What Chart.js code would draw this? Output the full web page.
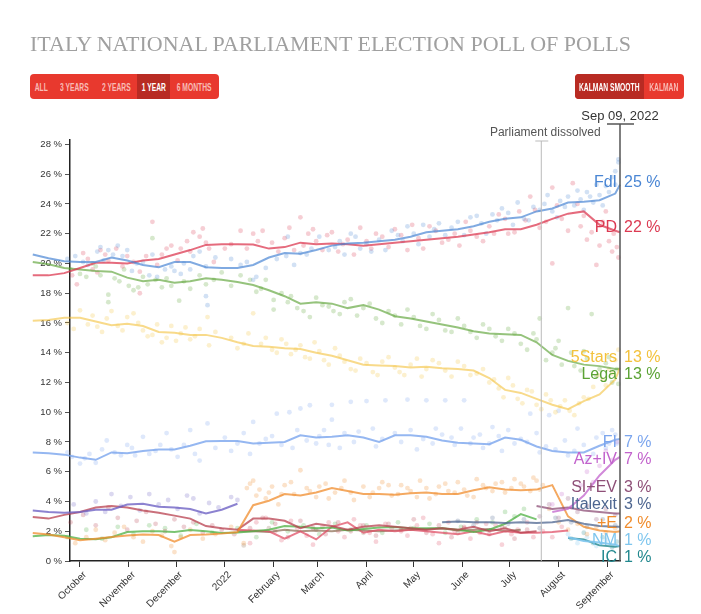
<!DOCTYPE html>
<html>
<head>
<meta charset="utf-8">
<script src="https://cdn.jsdelivr.net/npm/chart.js@4/dist/chart.umd.min.js"></script>
<style>
body { margin: 0; background: #fff; }
#wrap { position: relative; width: 701px; height: 614px; overflow: hidden; }
#chart { position: absolute; left: 0; top: 0; }
h1 { position: absolute; left: 30px; top: 31px; margin: 0; font: normal 22px "Liberation Serif", serif; color: #a0a0a0; white-space: nowrap; z-index: 2; }
.btns { position: absolute; top: 74px; height: 25px; display: flex; border-radius: 4px; overflow: hidden; background: #e8392e; z-index: 2; }
.btns span { display: flex; align-items: center; justify-content: center; overflow: hidden; }
.btns b { display: inline-block; white-space: nowrap; transform: scaleX(0.64); font: bold 10.5px "Liberation Sans", Arial, sans-serif; color: #f8bcb6; }
.btns span.on { background: #b82b23; }
.btns span.on b { color: #fff; }
</style>
</head>
<body>
<div id="wrap">
  <h1>ITALY NATIONAL PARLIAMENT ELECTION POLL OF POLLS</h1>
  <div class="btns" style="left:30px;width:189px">
    <span style="width:23px"><b>ALL</b></span><span style="width:42px"><b>3 YEARS</b></span><span style="width:42px"><b>2 YEARS</b></span><span class="on" style="width:33px"><b>1 YEAR</b></span><span style="width:49px"><b>6 MONTHS</b></span>
  </div>
  <div class="btns" style="left:575px;width:109px">
    <span class="on" style="width:69px"><b>KALMAN SMOOTH</b></span><span style="width:40px"><b>KALMAN</b></span>
  </div>
  <canvas id="chart" width="701" height="614"></canvas>
</div>
<script>
// smoothed lines, sampled every 10 days
const dates = ['2021-09-01','2021-09-11','2021-09-21','2021-10-01','2021-10-11','2021-10-21','2021-10-31',
  '2021-11-10','2021-11-20','2021-11-30','2021-12-10','2021-12-20','2021-12-30','2022-01-09','2022-01-19',
  '2022-01-29','2022-02-08','2022-02-18','2022-02-28','2022-03-10','2022-03-20','2022-03-30','2022-04-09',
  '2022-04-19','2022-04-29','2022-05-09','2022-05-19','2022-05-29','2022-06-08','2022-06-18','2022-06-28',
  '2022-07-08','2022-07-18','2022-07-28','2022-08-07','2022-08-17','2022-08-27','2022-09-06','2022-09-09'];

const fdi = [20.6,20.35,20.15,20.1,20.1,20.4,20.2,19.9,19.75,20.1,20.1,19.75,19.7,19.7,19.9,20.4,20.7,20.65,20.9,21.2,
  21.35,21.4,21.5,21.6,21.8,22.1,22.2,22.3,22.5,22.8,23.0,23.1,23.5,23.7,24.1,24.15,24.25,24.7,25.3];
const pd = [19.2,19.2,19.35,19.7,20.05,20.05,20.0,20.2,20.3,20.6,20.9,21.25,21.3,21.3,21.28,21.0,21.1,21.4,21.3,21.35,
  21.3,21.2,21.3,21.4,21.5,21.6,21.7,21.8,21.95,22.1,22.3,22.3,22.6,23.0,23.35,23.5,22.6,22.2,22.1];
const lega = [20.1,19.95,19.7,19.6,19.5,19.45,19.05,18.8,18.9,18.7,18.8,19.0,18.9,18.75,18.55,18.2,17.8,17.3,17.4,17.3,
  17.0,17.2,16.9,16.45,16.3,16.1,15.9,15.7,15.45,15.3,15.25,15.2,14.7,13.85,13.45,13.2,13.1,12.9,12.9];
const m5s = [16.15,16.2,16.35,16.35,16.1,15.85,15.95,15.8,15.4,15.35,15.2,15.2,15.0,14.7,14.45,14.4,14.3,14.25,14.0,13.8,
  13.5,13.2,13.15,13.1,13.0,13.05,12.95,12.9,12.8,12.3,11.5,11.3,10.9,10.5,10.2,10.75,11.2,12.2,13.0];
const fi = [7.3,7.25,7.15,6.95,6.8,7.3,7.25,7.4,7.5,7.5,7.75,8.05,8.07,8.07,7.9,7.95,8.0,8.45,8.3,8.35,
  8.45,8.3,8.0,8.45,8.45,8.35,8.1,7.95,7.9,7.85,8.3,8.15,7.7,7.4,7.3,7.3,7.75,8.15,8.2];
const azIv = [null,null,null,null,null,null,null,null,null,null,null,null,null,null,null,null,null,null,null,null,
  null,null,null,null,null,null,null,null,null,null,null,null,null,3.3,3.5,4.4,5.75,6.8,7.0];
const siEv = [null,null,null,null,null,null,null,null,null,null,null,null,null,null,null,null,null,null,null,null,
  null,null,null,null,null,null,null,null,null,null,null,null,3.7,3.5,3.6,3.4,3.3,3.2,3.2];
const italexit = [null,null,null,null,null,null,null,null,null,null,null,null,null,null,null,null,null,null,null,null,
  null,null,null,null,null,null,2.6,2.65,2.6,2.6,2.55,2.6,2.55,2.6,2.75,2.5,2.35,2.3,2.3];
const piuE = [1.88,1.78,1.6,1.4,1.5,1.62,1.72,1.78,1.75,1.3,1.75,1.78,1.84,1.95,3.75,4.05,4.5,4.4,4.6,4.9,
  4.7,4.5,4.5,4.45,4.55,4.6,4.5,4.5,4.75,4.95,4.8,4.75,4.8,5.1,3.0,2.3,2.05,1.95,2.0];
const nm = [null,null,null,null,null,null,null,null,null,null,null,null,null,null,null,null,null,null,null,null,
  null,null,null,null,null,null,null,null,null,null,null,null,null,null,1.6,1.35,1.25,1.1,1.0];
const ic = [null,null,null,null,null,null,null,null,null,null,null,null,null,null,null,null,null,null,null,null,
  null,null,null,null,null,null,null,null,null,null,null,null,null,null,1.55,1.45,1.05,0.95,1.0];
// parties that dropped out before the end
const azione = [3.4,3.3,3.25,3.3,3.45,3.45,3.8,3.85,3.65,3.6,3.5,3.2,3.45,3.85];
const si = [2.95,2.85,3.1,3.3,3.6,3.7,3.6,3.4,3.25,3.05,2.85,2.35,2.2,2.1,2.85,2.85,2.7,2.2,2.5,2.35,
  2.1,2.3,2.4,2.3,2.2,2.1,2.2,2.1,2.3,2.0,2.2,1.9,2.0];
const ev = [1.66,1.75,1.7,1.5,1.46,1.6,1.95,2.0,2.0,1.95,2.08,2.0,1.88,1.92,2.0,2.1,2.35,2.3,2.2,2.25,
  2.05,2.15,2.25,2.29,2.2,2.2,2.2,2.1,1.95,2.1,2.5,3.15,2.8];
const art1 = [null,null,null,null,null,null,null,null,null,null,null,null,null,2.1,2.05,2.0,1.5,2.0,1.45,2.3,
  2.6,1.9,2.1,2.0,2.1,2.0,1.9,1.8,2.0,1.75,2.0,1.9,1.9,1.95,2.05];
const other = [null,null,null,null,null,null,null,null,null,null,null,null,null,2.0,2.0,1.95,2.1,2.0,2.05,2.0,
  2.1,2.05,2.0,2.05,2.1,2.15,2.2,2.05,2.1,2.15,2.0,2.1];

// single polls: [days after 2021-10-01, %]
const fdiPolls = [[-30,21.2],[-27,21.1],[-24,21.0],[-21,21.0],[-18,20.9],[-12,20.4],[-8,20.3],[2,20.1],[11,20.8],[13,21.1],
  [18,20.9],[21,20.6],[27,20.5],[33,19.5],[36,20.0],[44,19.2],[49,19.1],[54,19.6],[60,19.5],[66,20.0],[72,20.5],[76,20.8],
  [80,19.8],[80,17.8],[81,17.2],[102,19.9],[110,18.9],[112,19.1],[125,20.3],[131,20.5],[132,21.8],[140,20.7],[147,21.0],
  [152,21.8],[158,20.9],[165,21.5],[172,22.0],[178,21.0],[185,20.8],[190,21.6],[198,22.2],[205,21.5],[212,22.0],[218,22.6],
  [225,22.3],[232,21.9],[240,22.8],[248,23.1],[255,22.7],[262,23.3],[268,23.7],[275,22.6],[282,23.0],[288,23.8],[295,24.0],
  [300,23.5],[305,24.2],[310,24.5],[314,23.9],[318,24.3],[322,24.8],[326,24.1],[330,24.6],[334,25.2],[338,25.8],[340,26.2],
  [342,26.8],[342,27.0],
  [-29,20.6],[-15,21.1],[-3,20.5],[5,19.9],[15,20.2],[24,21.2],[30,20.9],[40,20.1],[46,20.6],[58,19.8],[64,19.3],[70,19.6],
  [86,20.4],[96,20.3],[106,20.1],[118,19.7],[136,19.9],[144,20.6],[162,21.1],[168,20.6],[175,21.8],[182,21.3],[194,20.9],
  [202,21.9],[208,22.5],[215,21.3],[222,21.8],[228,22.7],[236,22.4],[244,21.9],[252,23.2],[258,22.0],[265,22.9],[272,23.4],
  [278,24.1],[285,22.9],[292,23.6],[297,24.6],[303,23.1],[308,23.8],[316,24.9],[320,23.6],[324,24.5],[328,25.3],[332,23.9],
  [336,24.8],[340,25.3]];
const pdPolls = [[-28,19.0],[-25,18.8],[-22,19.5],[-19,18.7],[-17,18.3],[-11,19.7],[-5,19.2],[2,20.7],[8,19.6],[13,20.9],
  [18,20.2],[23,21.0],[30,20.5],[38,19.45],[38,18.0],[46,22.8],[52,20.6],[58,21.2],[64,21.0],[68,21.5],[72,22.1],[76,21.8],
  [78,22.35],[82,21.0],[85,20.1],[96,21.3],[102,22.2],[110,22.0],[116,22.2],[122,21.4],[130,21.7],[136,20.9],[140,23.1],
  [145,22.0],[150,21.5],[157,21.9],[164,20.8],[170,21.6],[178,22.4],[185,21.0],[192,21.8],[200,22.3],[208,20.9],[215,21.7],
  [222,22.5],[230,21.4],[238,22.0],[245,22.8],[252,21.8],[260,22.5],[266,23.3],[272,22.0],[279,23.5],[286,24.5],[292,22.4],
  [300,25.1],[300,20.0],[306,23.0],[313,25.4],[318,22.5],[322,21.6],[328,19.9],[332,22.8],[336,21.5],[339,22.0],[341,21.1],
  [342,20.4],
  [-30,19.4],[-14,19.0],[-2,18.6],[5,20.3],[11,19.4],[16,20.6],[27,19.8],[34,20.1],[42,20.5],[49,19.9],[55,21.0],[62,20.2],
  [70,20.8],[80,21.4],[92,21.0],[106,21.0],[113,21.5],[126,20.8],[133,22.4],[142,21.2],[148,22.3],[154,20.9],[160,22.1],
  [167,21.3],[174,20.6],[182,21.5],[188,22.0],[196,21.1],[204,21.9],[211,22.6],[218,21.0],[226,22.2],[234,21.6],[241,21.2],
  [248,22.2],[256,21.5],[263,22.0],[270,23.0],[276,22.1],[283,22.9],[289,23.6],[296,22.8],[303,23.9],[310,22.2],[316,24.0],
  [320,23.2],[325,22.1],[330,21.2],[334,23.5],[338,20.8]];
const legaPolls = [[-30,19.7],[-26,20.2],[-19,19.55],[-12,19.8],[0,19.3],[8,20.0],[13,19.2],[18,17.9],[18,17.4],[25,18.8],
  [31,18.5],[37,18.4],[43,18.6],[46,21.7],[52,18.4],[58,18.5],[63,17.5],[70,18.3],[76,19.2],[85,18.9],[102,19.2],[108,18.9],
  [115,18.3],[123,17.55],[123,16.9],[128,18.0],[132,17.4],[138,17.0],[146,16.4],[150,17.7],[158,17.1],[165,16.6],[172,17.6],
  [180,17.0],[188,16.3],[196,16.8],[204,15.9],[212,16.4],[220,15.6],[228,16.2],[236,15.4],[244,15.8],[252,15.0],[260,15.6],
  [268,14.8],[276,15.3],[284,14.2],[290,14.9],[292,16.3],[296,13.5],[302,14.3],[306,13.2],[310,17.0],[312,14.0],[318,12.8],
  [322,13.6],[325,16.6],[328,12.4],[334,13.3],[338,12.0],[341,12.9],[342,11.9],
  [-28,20.5],[-22,19.3],[-16,20.0],[-6,19.6],[4,19.1],[10,19.8],[22,19.0],[28,19.6],[34,18.2],[40,19.1],[48,18.9],[55,19.0],
  [66,18.8],[80,18.6],[90,19.4],[96,18.5],[112,18.1],[118,18.9],[134,17.8],[142,16.8],[154,17.2],[161,16.8],[168,17.4],
  [176,16.5],[184,17.3],[192,16.0],[200,16.5],[208,16.9],[216,15.8],[224,16.6],[232,15.5],[240,16.3],[248,15.4],[256,15.9],
  [264,15.1],[272,15.6],[280,14.6],[288,15.3],[300,14.0],[304,14.8],[314,13.1],[320,14.1],[330,12.9],[336,13.7]];
const m5sPolls = [[-30,16.6],[-26,15.8],[-21,17.1],[-16,16.5],[-8,16.0],[0,16.85],[5,15.9],[11,15.75],[17,16.3],[24,15.8],
  [30,16.4],[34,16.65],[40,15.5],[46,15.2],[52,14.7],[58,15.8],[64,15.3],[70,14.9],[76,15.6],[81,16.4],[82,14.5],[96,15.0],
  [104,14.6],[110,16.65],[115,14.6],[122,14.2],[128,14.9],[134,13.9],[140,14.5],[146,13.6],[152,14.1],[158,13.2],[165,13.8],
  [172,12.9],[178,13.6],[186,12.7],[192,13.4],[200,13.0],[206,12.5],[214,13.6],[220,12.9],[228,13.3],[236,12.4],[244,13.1],
  [252,12.6],[260,12.0],[266,11.6],[272,12.3],[278,10.9],[284,11.5],[290,10.5],[296,11.2],[302,10.0],[308,10.8],[314,9.8],
  [320,11.0],[326,11.7],[332,12.2],[336,12.9],[340,13.5],[342,14.2],
  [-28,15.9],[-18,16.2],[-12,16.7],[-4,15.6],[8,16.5],[14,15.4],[20,16.8],[27,15.5],[37,16.0],[43,15.1],[49,15.9],[55,15.0],
  [61,14.8],[67,15.7],[73,15.1],[86,15.4],[100,14.3],[107,15.3],[118,15.0],[125,14.0],[131,14.6],[137,14.2],[143,13.7],
  [149,14.7],[155,13.5],[162,14.3],[168,13.4],[175,12.8],[182,13.3],[189,12.5],[196,13.7],[203,12.7],[210,13.2],[217,12.4],
  [224,13.5],[232,12.8],[240,13.4],[248,12.5],[256,12.9],[263,12.2],[269,11.0],[275,11.8],[281,10.6],[287,11.4],[293,10.2],
  [299,10.8],[305,10.4],[311,10.1],[317,10.6],[323,10.9],[329,12.5],[334,11.8],[338,12.6]];
const fiPolls = [[-30,7.2],[-24,7.5],[-18,7.0],[-12,7.45],[-5,7.0],[0,6.55],[6,7.2],[17,8.1],[22,7.3],[30,7.8],[35,7.1],
  [40,8.35],[48,7.4],[55,8.6],[62,7.0],[70,8.8],[76,6.75],[81,9.25],[86,7.6],[100,7.9],[108,7.2],[110,9.35],[118,8.2],
  [125,9.9],[133,10.0],[135,7.6],[140,10.25],[146,10.47],[150,7.9],[155,8.8],[160,10.5],[160,9.5],[165,7.6],[172,10.7],
  [177,8.7],[182,10.75],[188,7.7],[194,10.8],[200,8.6],[208,10.85],[214,7.5],[220,10.8],[226,8.9],[232,10.8],[238,7.8],
  [244,10.8],[250,8.3],[256,7.6],[262,9.0],[268,7.4],[280,8.2],[286,9.9],[292,7.3],[298,9.8],[304,10.1],[310,7.1],[316,8.9],
  [322,6.8],[328,8.3],[334,7.6],[338,8.8],[341,7.9],
  [-27,7.0],[-21,7.6],[-15,6.9],[-8,7.3],[3,6.9],[10,6.6],[14,7.5],[26,7.1],[33,7.6],[44,7.2],[51,7.8],[58,7.5],[66,7.8],
  [73,7.2],[92,8.3],[96,7.4],[104,8.6],[114,7.9],[122,8.4],[128,7.8],[138,8.8],[144,8.1],[152,8.4],[158,7.8],[168,8.6],
  [174,8.0],[186,8.9],[192,8.2],[204,8.0],[210,8.8],[218,8.2],[224,7.9],[230,8.5],[236,8.3],[242,8.9],[248,7.9],[254,8.5],
  [260,7.9],[266,8.4],[272,8.8],[276,7.9],[284,8.0],[290,8.6],[296,7.7],[302,7.5],[308,8.1],[314,7.4],[320,7.8],[326,7.2],
  [332,8.6],[336,7.9],[340,8.5]];
const azIvPolls = [[300,3.8],[306,4.5],[312,3.6],[318,5.1],[322,6.0],[326,5.3],[330,6.4],[334,7.4],[338,6.8],[341,8.0]];
const siEvPolls = [[292,3.0],[298,3.8],[304,2.9],[310,4.2],[316,3.3],[322,3.7],[328,2.8],[334,3.5],[340,3.1]];
const italexitPolls = [[240,2.7],[250,2.4],[262,2.9],[272,2.5],[282,2.8],[292,2.2],[302,2.9],[312,2.6],[322,2.3],[332,2.8],[340,2.4]];
const piuEPolls = [[-28,1.8],[-22,2.2],[-16,1.5],[-10,1.9],[-3,1.2],[4,1.6],[10,2.1],[16,1.4],[22,1.9],[28,2.3],[34,1.6],
  [40,1.3],[46,2.0],[52,1.7],[58,1.0],[60,0.6],[64,1.6],[70,2.1],[78,1.5],[86,1.8],[96,2.3],[104,1.2],[106,4.9],[110,5.4],
  [114,4.8],[118,4.2],[122,5.0],[126,3.8],[130,5.1],[136,4.5],[140,6.1],[144,4.9],[150,4.3],[156,5.2],[162,4.6],[168,5.4],
  [174,4.1],[180,5.0],[186,4.6],[192,5.3],[198,4.4],[204,5.1],[210,4.7],[216,5.4],[222,4.2],[228,5.0],[234,4.7],[240,5.3],
  [246,4.4],[252,5.5],[258,4.9],[264,5.2],[270,4.6],[276,5.5],[282,5.0],[288,5.6],[292,4.8],[298,3.5],[304,2.6],[310,2.1],
  [316,2.5],[322,1.8],[328,2.3],[334,1.9],[340,2.2],
  [108,5.2],[112,4.4],[120,4.6],[128,4.5],[134,5.3],[146,4.7],[152,5.0],[158,4.2],[166,4.9],[172,4.6],[184,4.3],[190,4.9],
  [196,5.1],[202,4.5],[208,4.9],[214,4.3],[220,4.9],[226,4.5],[232,5.2],[238,4.6],[244,4.8],[250,4.3],[256,5.1],[262,4.7],
  [268,5.3],[274,4.9],[280,5.2],[286,4.7],[290,5.4],[294,5.1]];
const nmPolls = [[310,1.8],[316,1.2],[322,1.6],[328,1.0],[334,1.4],[340,1.1]];
const icPolls = [[312,1.5],[320,1.9],[326,1.2],[332,1.6],[338,0.9],[341,1.3]];
const azionePolls = [[-28,4.2],[-22,3.6],[-16,3.9],[-10,3.1],[-4,3.8],[4,3.2],[10,4.0],[16,3.3],[20,4.5],[26,3.7],[32,4.3],
  [38,3.4],[44,4.5],[50,3.8],[56,4.1],[62,3.5],[68,4.4],[72,4.2],[76,3.2],[82,3.9],[88,3.6],[96,4.3],[100,4.1]];
const siPolls = [[-26,2.5],[-20,3.0],[-14,2.2],[-6,2.6],[2,3.1],[10,2.4],[18,3.6],[24,2.9],[30,2.1],[36,2.7],[42,3.3],
  [48,2.5],[54,2.0],[60,2.8],[66,2.3],[72,2.6],[78,1.9],[84,2.4],[90,2.1],[98,1.8],[108,2.2],[116,2.9],[124,2.5],[132,1.6],
  [140,2.7],[148,2.2],[156,1.8],[164,2.6],[172,2.0],[180,2.4],[188,1.7],[196,2.5],[204,2.1],[212,2.8],[220,1.9],[228,2.4],
  [236,1.6],[244,2.2],[252,2.6],[260,1.8],[268,2.3],[276,1.5],[284,2.1]];
const evPolls = [[-24,1.4],[-16,2.0],[-8,1.6],[4,2.1],[14,1.5],[24,2.3],[34,1.8],[44,2.4],[54,2.2],[64,1.7],[74,2.5],
  [84,1.9],[100,2.2],[112,1.6],[122,2.6],[132,2.0],[142,2.4],[152,1.8],[162,2.5],[172,2.1],[182,2.4],[192,1.9],[202,2.6],
  [212,2.2],[222,2.5],[232,1.9],[242,2.3],[252,2.8],[262,2.6],[270,3.3],[276,3.0],[282,3.5]];
const art1Polls = [[108,1.2],[118,2.9],[128,1.4],[138,2.2],[148,1.1],[158,2.6],[168,1.6],[178,2.4],[188,1.3],[198,2.2],
  [208,1.7],[218,2.9],[228,1.2],[238,2.0],[248,1.5],[258,2.5],[268,1.1],[278,2.1],[288,1.6],
  [112,2.6],[124,2.0],[134,2.7],[144,1.7],[154,2.3],[164,2.0],[174,2.8],[184,1.9],[194,2.5],[204,2.0],[214,2.4],[224,1.8],
  [234,2.6],[244,2.3],[254,1.9],[264,2.4],[274,1.8],[284,2.6],[294,2.0],[300,1.6],[306,2.3]];
const otherPolls = [[104,1.05],[120,2.2],[150,2.1],[180,1.9],[210,2.2],[240,1.9],[270,2.2]];

// right-hand labels: name, shown value, height (in %) where the label sits
const labelNames = ['FdI','PD','5Stars','Lega','FI','Az+IV','SI+EV','Italexit','+E','NM','IC'];
const labelValues = [25,22,13,13,7,7,3,3,2,1,1];
const labelAt = [25.47,22.41,13.68,12.5,7.96,6.82,4.94,3.8,2.49,1.34,0.2];

const monthDays = [0,31,61,92,123,151,182,212,243,273,304,335];
const monthNames = ['October','November','December','2022','February','March','April','May','June','July','August','September'];
const yTicks = [0,2,4,6,8,10,12,14,16,18,20,22,24,26,28];

const start = Date.parse('2021-10-01');
const toDay = s => (Date.parse(s) - start) / 864e5;
const days = dates.map(toDay);
const dissolved = toDay('2022-07-21');
const lastDay = toDay('2022-09-09');
const firstShown = -6.35;

function rgba(hex, a) {
  const n = parseInt(hex.slice(1), 16);
  return 'rgba(' + (n >> 16) + ',' + ((n >> 8) & 255) + ',' + (n & 255) + ',' + a + ')';
}

const parties = [
  { color: '#4a86d4', lineAlpha: 0.7, line: fdi, polls: fdiPolls },
  { color: '#dc3a52', lineAlpha: 0.75, line: pd, polls: pdPolls },
  { color: '#f3c23c', lineAlpha: 0.6, line: m5s, polls: m5sPolls },
  { color: '#5ca335', lineAlpha: 0.65, line: lega, polls: legaPolls },
  { color: '#7ba5ee', lineAlpha: 0.8, line: fi, polls: fiPolls },
  { color: '#c262cc', lineAlpha: 0.75, line: azIv, polls: azIvPolls },
  { color: '#8e4f77', lineAlpha: 0.75, line: siEv, polls: siEvPolls },
  { color: '#4e6690', lineAlpha: 0.75, line: italexit, polls: italexitPolls },
  { color: '#f08c2c', lineAlpha: 0.75, line: piuE, polls: piuEPolls },
  { color: '#7fc6ee', lineAlpha: 0.9, line: nm, polls: nmPolls },
  { color: '#21888e', lineAlpha: 0.8, line: ic, polls: icPolls },
  { color: '#6f63c4', lineAlpha: 0.8, line: azione, polls: azionePolls },
  { color: '#b8404f', lineAlpha: 0.75, line: si, polls: siPolls },
  { color: '#4db043', lineAlpha: 0.75, line: ev, polls: evPolls },
  { color: '#e05067', lineAlpha: 0.75, line: art1, polls: art1Polls },
  { color: '#8c6a50', lineAlpha: 0.7, line: other, polls: otherPolls }
];

const datasets = [];
parties.forEach(function (p) {
  datasets.push({
    data: p.polls.map(q => ({ x: q[0], y: q[1] })),
    showLine: false, pointRadius: 2.4, pointBorderWidth: 0,
    pointBackgroundColor: rgba(p.color, 0.25), order: 2, clip: false
  });
  datasets.push({
    data: p.line.map((v, i) => ({ x: days[i], y: v })),
    borderColor: rgba(p.color, p.lineAlpha), borderWidth: 2, pointRadius: 0,
    tension: 0, order: 1, clip: false
  });
});

const markers = {
  id: 'markers',
  afterDraw(chart) {
    const ctx = chart.ctx;
    const x = chart.scales.x, y = chart.scales.y;
    const bottom = chart.chartArea.bottom;
    ctx.save();
    // parliament dissolved
    const xd = x.getPixelForValue(dissolved);
    ctx.strokeStyle = '#bbb';
    ctx.lineWidth = 1;
    ctx.beginPath();
    ctx.moveTo(xd - 6, 141); ctx.lineTo(xd + 7, 141);
    ctx.moveTo(xd, 141); ctx.lineTo(xd, bottom);
    ctx.stroke();
    ctx.fillStyle = '#555';
    ctx.font = '12px "Liberation Sans", Arial, sans-serif';
    ctx.textAlign = 'center';
    ctx.textBaseline = 'middle';
    ctx.fillText('Parliament dissolved', xd + 4, 133);
    // last poll date
    const xl = x.getPixelForValue(lastDay);
    ctx.strokeStyle = '#555';
    ctx.lineWidth = 1.5;
    ctx.beginPath();
    ctx.moveTo(xl - 13, 124); ctx.lineTo(xl + 14, 124);
    ctx.moveTo(xl, 124); ctx.lineTo(xl, bottom);
    ctx.stroke();
    ctx.fillStyle = '#333';
    ctx.font = '13px "Liberation Sans", Arial, sans-serif';
    ctx.fillText('Sep 09, 2022', xl, 116);
    // party labels
    ctx.font = '16px "Liberation Sans", Arial, sans-serif';
    labelNames.forEach(function (name, i) {
      const yy = y.getPixelForValue(labelAt[i]);
      ctx.fillStyle = parties[i].color;
      ctx.textAlign = 'right';
      ctx.fillText(name, xl - 3, yy);
      ctx.textAlign = 'left';
      ctx.fillText(labelValues[i] + ' %', xl + 4, yy);
    });
    ctx.restore();
  }
};

new Chart(document.getElementById('chart'), {
  type: 'line',
  data: { datasets: datasets },
  options: {
    responsive: false,
    animation: false,
    layout: { padding: { left: 0, right: 81, top: 140, bottom: 0 } },
    plugins: { legend: { display: false }, tooltip: { enabled: false } },
    scales: {
      x: {
        type: 'linear', bounds: 'data',
        // range set here (not via min/max) so the older polls left of the axis still get drawn
        afterDataLimits: sc => { sc.min = firstShown; sc.max = lastDay; },
        afterBuildTicks: sc => { sc.min = firstShown; sc.max = lastDay; sc.ticks = monthDays.map(v => ({ value: v })); },
        afterFit: sc => { sc.height = 53; },
        ticks: {
          autoSkip: false, minRotation: 45, maxRotation: 45, padding: 2, labelOffset: 5, color: '#333',
          font: { size: 10, family: '"Liberation Sans", Arial, sans-serif' },
          callback: v => monthNames[monthDays.indexOf(v)]
        },
        grid: { drawOnChartArea: false, tickLength: 6, color: '#333' },
        border: { color: '#222', width: 1.5 }
      },
      y: {
        min: 0, max: 28.3,
        afterBuildTicks: sc => { sc.ticks = yTicks.map(v => ({ value: v })); },
        afterFit: sc => { sc.width = 70; },
        ticks: {
          autoSkip: false, padding: 3, color: '#333',
          font: { size: 9.5, family: '"Liberation Sans", Arial, sans-serif' },
          callback: v => v + ' %'
        },
        grid: { drawOnChartArea: false, tickLength: 5, color: '#555' },
        border: { color: '#222', width: 1.5 }
      }
    }
  },
  plugins: [markers]
});
</script>
</body>
</html>
